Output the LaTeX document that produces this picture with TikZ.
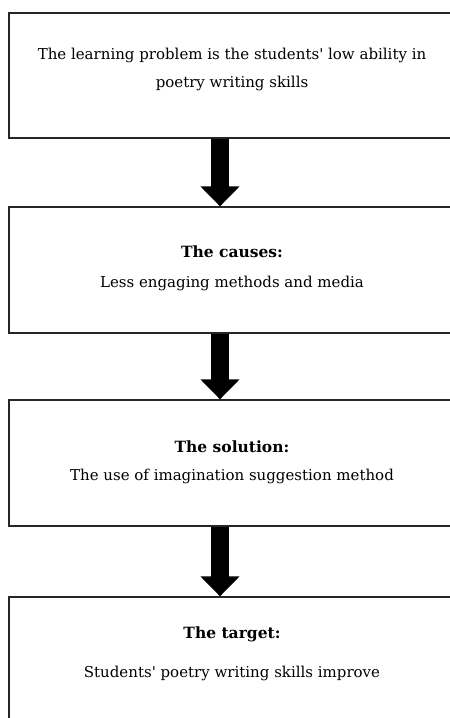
\documentclass[tikz,border=0pt]{standalone}
\usepackage{fontspec}
\setmainfont{DejaVu Serif}[Ligatures=TeXOff]
\usetikzlibrary{arrows.meta}
\begin{document}
\begin{tikzpicture}[x=1pt,y=-1pt,
 box/.style={draw=black!85, line width=1.3pt, minimum width=446pt, inner sep=0pt},
 txt/.style={font=\fontsize{15}{18}\selectfont, inner sep=0pt},
 hd/.style={font=\fontsize{15.5}{18}\selectfont\bfseries, inner sep=0pt},
 bigarrow/.style={line width=18pt, -{Triangle[width=38pt,length=20pt]}}]
\useasboundingbox (0,0) rectangle (450,718);
\coordinate (ax) at (220,0);
\node[box, minimum height=125pt] (b1) at (232,75.5) {};
\node[box, minimum height=126pt] (b2) at (232,270) {};
\node[box, minimum height=126pt] (b3) at (232,463) {};
\node[box, minimum height=126pt] (b4) at (232,660) {};
\node[txt] (t1a) at (232,55) {The learning problem is the students' low ability in};
\node[txt] (t1b) at (232,83) {poetry writing skills};
\node[hd] (t2a) at (232,252) {The causes:};
\node[txt] (t2b) at (232,283) {Less engaging methods and media};
\node[hd] (t3a) at (232,447) {The solution:};
\node[txt] (t3b) at (232,476) {The use of imagination suggestion method};
\node[hd] (t4a) at (232,634) {The target:};
\node[txt] (t4b) at (232,673) {Students' poetry writing skills improve};
\draw[bigarrow] (b1.south -| ax) -- (b2.north -| ax);
\draw[bigarrow] (b2.south -| ax) -- (b3.north -| ax);
\draw[bigarrow] (b3.south -| ax) -- (b4.north -| ax);
\end{tikzpicture}
\end{document}
